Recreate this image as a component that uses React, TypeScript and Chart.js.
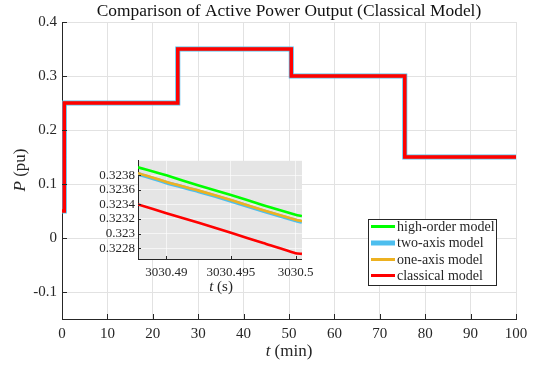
import React, { useEffect, useRef } from "react";
import { Chart, registerables } from "chart.js";

Chart.register(...registerables);

const SERIF = "'Liberation Serif', 'DejaVu Serif', serif";
const INK = "#262626";

// ---- main plot data (time in minutes, power in pu) ----
const stepTimesMin = [0, 0.5, 0.5, 25.5, 25.5, 50.5, 50.5, 75.5, 75.5, 100];
const highOrderP = [0.05, 0.05, 0.25, 0.25, 0.35, 0.35, 0.3, 0.3, 0.15, 0.15];
const twoAxisP = [0.05, 0.05, 0.25, 0.25, 0.35, 0.35, 0.3, 0.3, 0.15, 0.15];
const oneAxisP = [0.05, 0.05, 0.25, 0.25, 0.35, 0.35, 0.3, 0.3, 0.15, 0.15];
const classicalP = [0.05, 0.05, 0.25, 0.25, 0.35, 0.35, 0.3, 0.3, 0.15, 0.15];

const xTicksMain = [0, 10, 20, 30, 40, 50, 60, 70, 80, 90, 100];
const yTicksMain = [-0.1, 0, 0.1, 0.2, 0.3, 0.4];
const yTickLabelsMain = ["-0.1", "0", "0.1", "0.2", "0.3", "0.4"];

// ---- inset data (time in seconds) ----
const insetTimes = [3030.4878, 3030.49, 3030.4925, 3030.495, 3030.4975, 3030.5, 3030.5005];
const insetHighOrder = [0.32391, 0.3238, 0.32366, 0.32353, 0.32339, 0.32326, 0.32324];
const insetTwoAxis = [0.32382, 0.3237, 0.32358, 0.32345, 0.32331, 0.32318, 0.32316];
const insetOneAxis = [0.32383, 0.32371, 0.32359, 0.32346, 0.32332, 0.32319, 0.32317];
const insetClassical = [0.3234, 0.32328, 0.32315, 0.32301, 0.32287, 0.32273, 0.32272];

const insetXTicks = [3030.49, 3030.495, 3030.5];
const insetXTickLabels = ["3030.49", "3030.495", "3030.5"];
const insetYTicks = [0.3228, 0.323, 0.3232, 0.3234, 0.3236, 0.3238];
const insetYTickLabels = ["0.3228", "0.323", "0.3232", "0.3234", "0.3236", "0.3238"];

const seriesNames = ["high-order model", "two-axis model", "one-axis model", "classical model"];
const seriesColors = ["#00ff00", "#4dbeee", "#edb120", "#ff0000"];

const TITLE = "Comparison of Active Power Output (Classical Model)";

function pts(xs: number[], ys: number[]) {
  return xs.map((x, i) => ({ x, y: ys[i] }));
}

function drawMixed(
  ctx: CanvasRenderingContext2D,
  parts: [string, string][],
  cx: number,
  cy: number
) {
  ctx.textBaseline = "middle";
  ctx.textAlign = "left";
  const widths = parts.map(([t, f]) => {
    ctx.font = f;
    return ctx.measureText(t).width;
  });
  const total = widths.reduce((a, b) => a + b, 0);
  let x = cx - total / 2;
  parts.forEach(([t, f], i) => {
    ctx.font = f;
    ctx.fillText(t, x, cy);
    x += widths[i];
  });
}

function innerTicks(chart: any, len: number) {
  const ctx = chart.ctx as CanvasRenderingContext2D;
  const { left, bottom } = chart.chartArea;
  const xs = chart.scales.x;
  const ys = chart.scales.y;
  ctx.save();
  ctx.strokeStyle = INK;
  ctx.lineWidth = 1;
  ctx.beginPath();
  xs.ticks.forEach((t: any) => {
    const px = Math.round(xs.getPixelForValue(t.value)) + 0.5;
    ctx.moveTo(px, bottom);
    ctx.lineTo(px, bottom - len);
  });
  ys.ticks.forEach((t: any) => {
    const py = Math.round(ys.getPixelForValue(t.value)) + 0.5;
    ctx.moveTo(left, py);
    ctx.lineTo(left + len, py);
  });
  ctx.stroke();
  ctx.restore();
}

const mainDecor = {
  id: "mainDecor",
  afterDraw(chart: any) {
    const ctx = chart.ctx as CanvasRenderingContext2D;
    innerTicks(chart, 5);
    ctx.save();
    ctx.fillStyle = "#111";
    // title
    ctx.font = `17.4px ${SERIF}`;
    ctx.textAlign = "center";
    ctx.textBaseline = "middle";
    ctx.fillText(TITLE, 289, 11);
    // x label
    ctx.fillStyle = INK;
    drawMixed(ctx, [["t", `italic 17px ${SERIF}`], [" (min)", `17px ${SERIF}`]], 289, 352);
    // y label
    ctx.save();
    ctx.translate(21, 170);
    ctx.rotate(-Math.PI / 2);
    drawMixed(ctx, [["P", `italic 17px ${SERIF}`], [" (pu)", `17px ${SERIF}`]], 0, 0);
    ctx.restore();
    // legend
    const bx = 368.5, by = 219.5, bw = 128, bh = 66;
    ctx.fillStyle = "#ffffff";
    ctx.fillRect(bx, by, bw, bh);
    ctx.strokeStyle = INK;
    ctx.lineWidth = 1;
    ctx.strokeRect(bx, by, bw, bh);
    const rowY = [226.5, 243, 259.5, 275.5];
    const lw = [3, 5, 3, 3];
    seriesNames.forEach((name, i) => {
      ctx.strokeStyle = seriesColors[i];
      ctx.lineWidth = lw[i];
      ctx.beginPath();
      ctx.moveTo(371, rowY[i]);
      ctx.lineTo(395, rowY[i]);
      ctx.stroke();
      ctx.fillStyle = INK;
      ctx.font = `14px ${SERIF}`;
      ctx.textAlign = "left";
      ctx.textBaseline = "middle";
      ctx.fillText(name, 397, rowY[i] + 0.5);
    });
    ctx.restore();
  },
};

const insetDecor = {
  id: "insetDecor",
  beforeDraw(chart: any) {
    const ctx = chart.ctx as CanvasRenderingContext2D;
    const { left, top, right, bottom } = chart.chartArea;
    ctx.save();
    ctx.fillStyle = "#e5e5e5";
    ctx.fillRect(left, top, right - left, bottom - top);
    ctx.restore();
  },
  afterDraw(chart: any) {
    const ctx = chart.ctx as CanvasRenderingContext2D;
    innerTicks(chart, 3);
    ctx.save();
    ctx.fillStyle = INK;
    drawMixed(ctx, [["t", `italic 15px ${SERIF}`], [" (s)", `15px ${SERIF}`]], 141, 137);
    ctx.restore();
  },
};

export default function App() {
  const mainRef = useRef<HTMLCanvasElement>(null);
  const insetRef = useRef<HTMLCanvasElement>(null);

  useEffect(() => {
    const main = new Chart(mainRef.current as HTMLCanvasElement, {
      type: "line",
      data: {
        datasets: [
          { label: seriesNames[0], data: pts(stepTimesMin, highOrderP), borderColor: seriesColors[0], borderWidth: 3, order: 4 },
          { label: seriesNames[1], data: pts(stepTimesMin, twoAxisP), borderColor: seriesColors[1], borderWidth: 5, order: 3 },
          { label: seriesNames[2], data: pts(stepTimesMin, oneAxisP), borderColor: seriesColors[2], borderWidth: 2.5, order: 2 },
          { label: seriesNames[3], data: pts(stepTimesMin, classicalP), borderColor: seriesColors[3], borderWidth: 3.5, order: 1 },
        ],
      },
      options: {
        animation: false,
        responsive: false,
        maintainAspectRatio: false,
        devicePixelRatio: 1,
        layout: { padding: { left: 0, top: 22, right: 23, bottom: 0 } },
        elements: { point: { radius: 0 }, line: { tension: 0, borderJoinStyle: "miter" } },
        plugins: { legend: { display: false }, title: { display: false }, tooltip: { enabled: false } },
        scales: {
          x: {
            type: "linear",
            min: 0,
            max: 100,
            afterFit: (s: any) => { s.height = 47; },
            afterBuildTicks: (s: any) => { s.ticks = xTicksMain.map((v) => ({ value: v })); },
            ticks: { callback: (v: any) => String(v), font: { family: SERIF, size: 15 }, color: INK, padding: 6, maxRotation: 0, autoSkip: false },
            grid: { color: "#e2e2e2", drawTicks: false },
            border: { display: true, color: INK },
          },
          y: {
            type: "linear",
            min: -0.15,
            max: 0.4,
            afterFit: (s: any) => { s.width = 62; },
            afterBuildTicks: (s: any) => { s.ticks = yTicksMain.map((v) => ({ value: v })); },
            ticks: {
              callback: (v: any) => { const i = yTicksMain.findIndex((t) => Math.abs(t - v) < 1e-9); return i >= 0 ? yTickLabelsMain[i] : ""; },
              font: { family: SERIF, size: 15 }, color: INK, padding: 5, autoSkip: false,
            },
            grid: { color: "#e2e2e2", drawTicks: false },
            border: { display: true, color: INK },
          },
        },
      } as any,
      plugins: [mainDecor],
    });

    const inset = new Chart(insetRef.current as HTMLCanvasElement, {
      type: "line",
      data: {
        datasets: [
          { label: seriesNames[0], data: pts(insetTimes, insetHighOrder), borderColor: seriesColors[0], borderWidth: 2.6, order: 4 },
          { label: seriesNames[1], data: pts(insetTimes, insetTwoAxis), borderColor: seriesColors[1], borderWidth: 3.8, order: 3 },
          { label: seriesNames[2], data: pts(insetTimes, insetOneAxis), borderColor: seriesColors[2], borderWidth: 2.6, order: 2 },
          { label: seriesNames[3], data: pts(insetTimes, insetClassical), borderColor: seriesColors[3], borderWidth: 2.6, order: 1 },
        ],
      },
      options: {
        animation: false,
        responsive: false,
        maintainAspectRatio: false,
        devicePixelRatio: 1,
        layout: { padding: { left: 0, top: 7, right: 15, bottom: 0 } },
        elements: { point: { radius: 0 }, line: { tension: 0.2 } },
        plugins: { legend: { display: false }, title: { display: false }, tooltip: { enabled: false } },
        scales: {
          x: {
            type: "linear",
            min: 3030.4878,
            max: 3030.5005,
            afterFit: (s: any) => { s.height = 41; },
            afterBuildTicks: (s: any) => { s.ticks = insetXTicks.map((v) => ({ value: v })); },
            ticks: {
              callback: (v: any) => { const i = insetXTicks.findIndex((t) => Math.abs(t - v) < 1e-7); return i >= 0 ? insetXTickLabels[i] : ""; },
              font: { family: SERIF, size: 13 }, color: INK, padding: 6, maxRotation: 0, autoSkip: false,
            },
            grid: { color: "rgba(255,255,255,0.6)", drawTicks: false },
            border: { display: true, color: INK },
          },
          y: {
            type: "linear",
            min: 0.32265,
            max: 0.324,
            afterFit: (s: any) => { s.width = 58; },
            afterBuildTicks: (s: any) => { s.ticks = insetYTicks.map((v) => ({ value: v })); },
            ticks: {
              callback: (v: any) => { const i = insetYTicks.findIndex((t) => Math.abs(t - v) < 1e-9); return i >= 0 ? insetYTickLabels[i] : ""; },
              font: { family: SERIF, size: 13 }, color: INK, padding: 3, autoSkip: false,
            },
            grid: { color: "rgba(255,255,255,0.6)", drawTicks: false },
            border: { display: true, color: INK },
          },
        },
      } as any,
      plugins: [insetDecor],
    });

    return () => {
      main.destroy();
      inset.destroy();
    };
  }, []);

  return (
    <div style={{ position: "absolute", left: 0, top: 0, width: 539, height: 366, background: "#fff" }}>
      <canvas ref={mainRef} width={539} height={366} style={{ position: "absolute", left: 0, top: 0, width: 539, height: 366 }} />
      <canvas ref={insetRef} width={240} height={150} style={{ position: "absolute", left: 80, top: 150, width: 240, height: 150 }} />
    </div>
  );
}
